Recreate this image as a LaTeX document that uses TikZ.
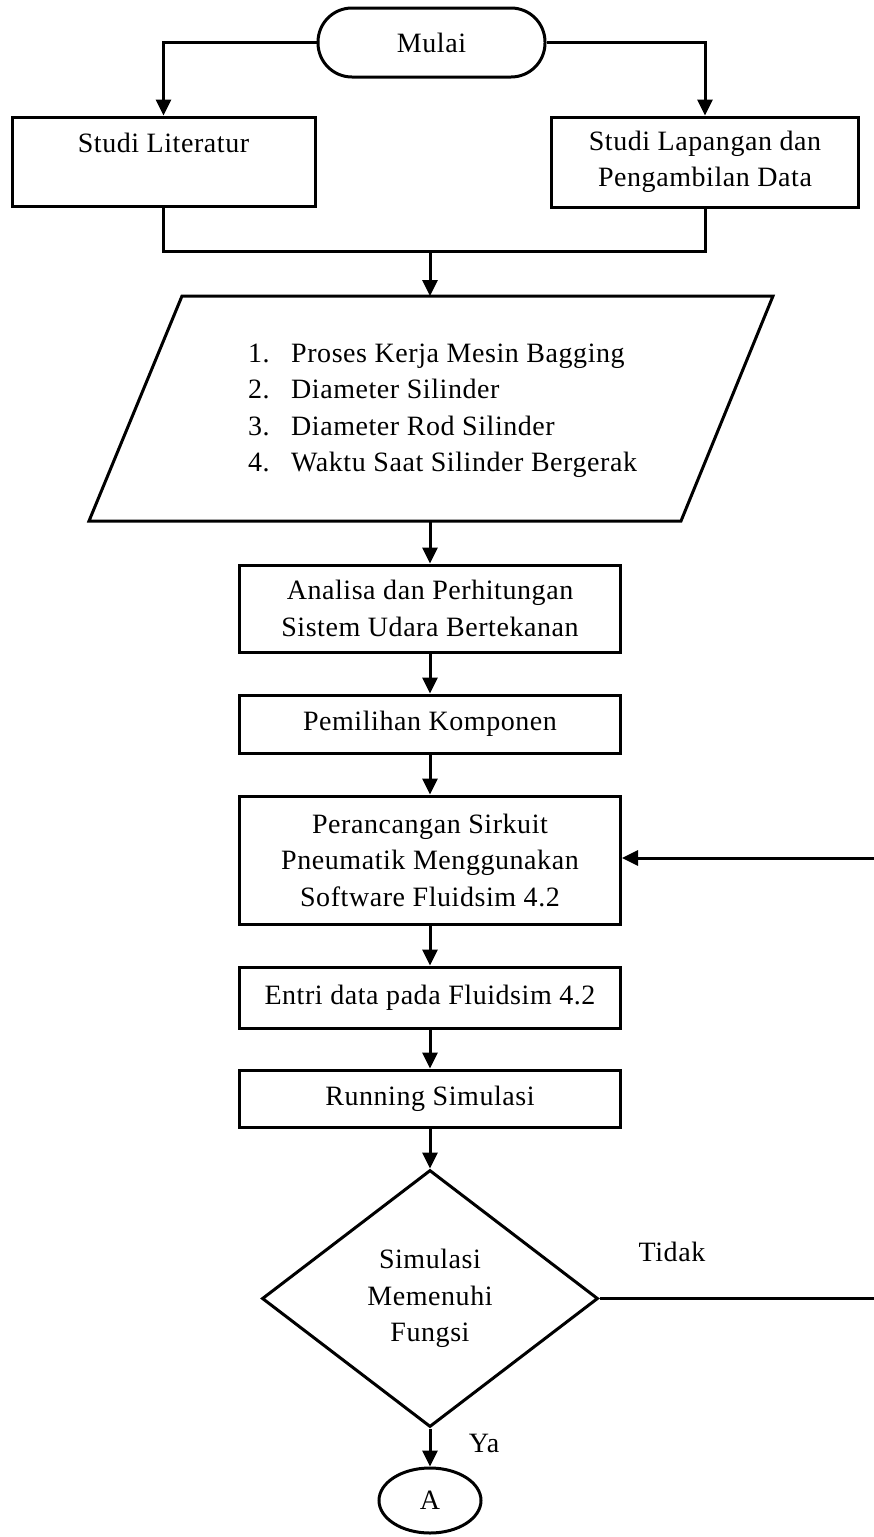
\documentclass[tikz,border=0pt]{standalone}
\usepackage{fontspec}
\setmainfont[LetterSpace=2]{Liberation Serif}
\usetikzlibrary{arrows.meta,shapes.geometric}
\begin{document}
\begin{tikzpicture}[x=1pt,y=-1pt,
  font=\fontsize{28}{36.5}\selectfont,
  box/.style={draw,line width=3pt,rectangle,align=center,inner sep=0pt},
  arr/.style={line width=3pt,-{Triangle[length=16pt,width=15pt]}},
  ln/.style={line width=3pt},
  lbl/.style={inner sep=0pt}]
\fill[white] (0,0) rectangle (874,1537);
\useasboundingbox (0,0) rectangle (874,1537);

% nodes
\node[box,rounded corners=34pt,minimum width=227pt,minimum height=69pt] (mulai) at (431.5,42.5) {Mulai};
\node[box,minimum width=303pt,minimum height=89pt] (lit) at (163.5,161.5) {Studi Literatur\\\mbox{}};
\node[box,minimum width=307pt,minimum height=90pt] (lap) at (705,162) {Studi Lapangan dan\\Pengambilan Data};

\coordinate (j) at (430,251);
\draw[ln] (89,521) -- (182,296) -- (773,296) -- (681,521) -- cycle;
\coordinate (dtop) at (430,296);
\coordinate (dbot) at (430,521);
\node[lbl,anchor=west,align=left] (data) at (248,410.5)
  {\makebox[43pt][l]{1.}Proses Kerja Mesin Bagging\\
   \makebox[43pt][l]{2.}Diameter Silinder\\
   \makebox[43pt][l]{3.}Diameter Rod Silinder\\
   \makebox[43pt][l]{4.}Waktu Saat Silinder Bergerak};

\node[box,minimum width=381pt,minimum height=87pt] (ana) at (430,608.5) {Analisa dan Perhitungan\\Sistem Udara Bertekanan};
\node[box,minimum width=381pt,minimum height=58pt] (pem) at (430,724) {Pemilihan Komponen};
\node[box,minimum width=381pt,minimum height=128pt] (per) at (430,860) {Perancangan Sirkuit\\Pneumatik Menggunakan\\Software Fluidsim 4.2};
\node[box,minimum width=381pt,minimum height=61pt] (ent) at (430,997.5) {Entri data pada Fluidsim 4.2};
\node[box,minimum width=381pt,minimum height=57pt] (run) at (430,1098.5) {Running Simulasi};
\node[draw,line width=3pt,diamond,aspect=1.3,align=center,inner sep=0pt,minimum width=336pt,minimum height=257pt] (dia) at (430,1298.5) {Simulasi\\Memenuhi\\Fungsi};
\node[draw,line width=3pt,ellipse,inner sep=0pt,minimum width=102pt,minimum height=65pt] (A) at (430,1500.5) {A};

\node[lbl] (tidak) at (672,1252) {Tidak};
\node[lbl] (ya) at (484,1443) {Ya};

\coordinate (rt1) at (874,1298.5);
\coordinate (rt2) at (874,858);

% connectors
\draw[arr] (mulai.west) -| (lit.north);
\draw[arr] (mulai.east) -| (lap.north);
\draw[ln] (lit.south) |- (j) -| (lap.south);
\draw[arr] (j) -- (dtop);
\draw[arr] (dbot) -- (ana.north);
\draw[arr] (ana.south) -- (pem.north);
\draw[arr] (pem.south) -- (per.north);
\draw[arr] (per.south) -- (ent.north);
\draw[arr] (ent.south) -- (run.north);
\draw[arr] (run.south) -- (dia.north);
\draw[arr] (dia.south) -- (A.north);
\draw[ln] (dia.east) -- (rt1);
\draw[arr] (rt2) -- (per.east |- rt2);
\end{tikzpicture}
\end{document}
